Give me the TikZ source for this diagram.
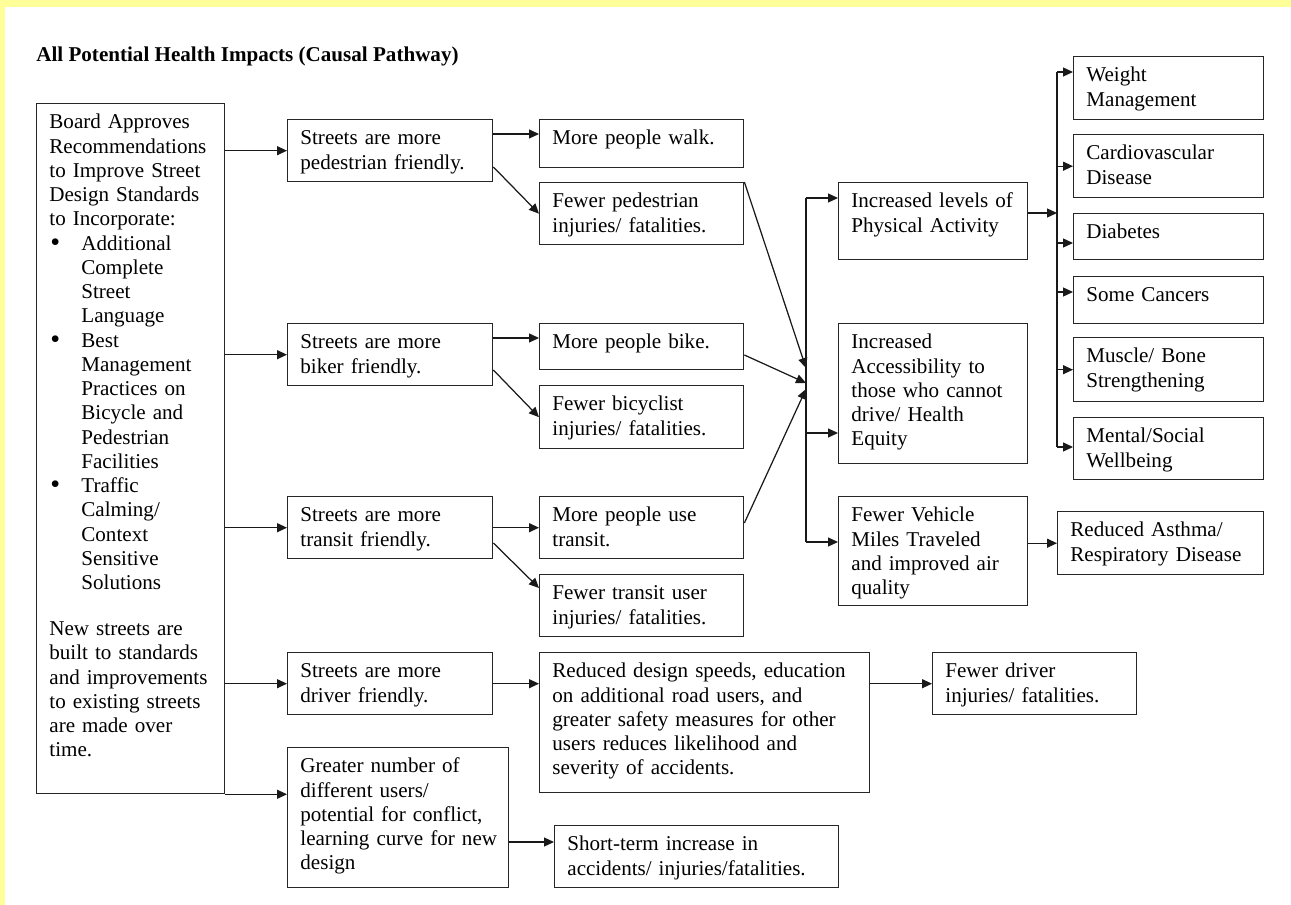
\documentclass[tikz,border=0pt]{standalone}
\usepackage{fontspec}
\setmainfont{Liberation Serif}
\usepackage{xcolor}
\usepackage{tikz}
\usetikzlibrary{arrows.meta, positioning, calc}

\definecolor{pageyellow}{HTML}{FFFF99}
\newcommand{\bul}{\makebox[0.64cm][l]{\hspace{0.02cm}\raisebox{-0.6pt}{\fontsize{16}{13.8}\selectfont\textbullet}}}
\newcommand{\ind}{\hspace*{0.64cm}}

\begin{document}
\begin{tikzpicture}[
  x=0.02cm, y=-0.02cm,
  font=\fontsize{12}{13.8}\selectfont,
  box/.style={rectangle, draw=black!85, line width=0.8pt, anchor=north west,
              align=left, inner xsep=0.254cm, inner ysep=3.6pt, text height=10.7pt},
  arrow/.style={-{Triangle[length=2mm, width=1.8mm]}, line width=0.7pt, draw=black!90},
  link/.style={line width=0.7pt, draw=black!90}
]
  \fill[white] (0,0) rectangle (1291,905);
  \fill[pageyellow] (0,0) rectangle (1291,7);
  \fill[pageyellow] (0,0) rectangle (5,905);
  \useasboundingbox (0,0) rectangle (1291,905);

  \node[anchor=base west, inner sep=0pt, font=\fontsize{12}{13.8}\selectfont\bfseries] (title) at (36,62)
    {All Potential Health Impacts (Causal Pathway)};

  % recommendation
  \node[box, text width=3.252cm, text depth=13.171cm] (board) at (36,103)
    {Board Approves\\Recommendations\\to Improve Street\\Design Standards\\to Incorporate:\\
     \bul Additional\\\ind Complete\\\ind Street\\\ind Language\\
     \bul Best\\\ind Management\\\ind Practices on\\\ind Bicycle and\\\ind Pedestrian\\\ind Facilities\\
     \bul Traffic\\\ind Calming/\\\ind Context\\\ind Sensitive\\\ind Solutions\\[12.5pt]
     New streets are\\built to standards\\and improvements\\to existing streets\\are made over\\time.};

  % street types
  \node[box, text width=3.592cm, text depth=0.611cm] (ped) at (287,119) {Streets are more\\pedestrian friendly.};
  \node[box, text width=3.592cm, text depth=0.611cm] (bike) at (287,323) {Streets are more\\biker friendly.};
  \node[box, text width=3.592cm, text depth=0.611cm] (transit) at (287,496) {Streets are more\\transit friendly.};
  \node[box, text width=3.592cm, text depth=0.611cm] (driver) at (287,652) {Streets are more\\driver friendly.};
  \node[box, inner xsep=0.2cm, text width=4.02cm, text depth=2.171cm] (greater) at (287,747)
    {\hspace*{0.054cm}Greater number of\\\hspace*{0.054cm}different users/\\\hspace*{0.054cm}potential for conflict,\\\hspace*{0.054cm}learning curve for new\\\hspace*{0.054cm}design};

  % behaviour and safety
  \node[box, text width=3.572cm, text depth=0.331cm] (walk) at (539,119) {More people walk.};
  \node[box, text width=3.572cm, text depth=0.611cm] (pedinj) at (539,182) {Fewer pedestrian\\injuries/ fatalities.};
  \node[box, text width=3.572cm, text depth=0.291cm] (bikemore) at (539,323) {More people bike.};
  \node[box, text width=3.572cm, text depth=0.631cm] (bikeinj) at (539,385) {Fewer bicyclist\\injuries/ fatalities.};
  \node[box, text width=3.572cm, text depth=0.611cm] (transitmore) at (539,496) {More people use\\transit.};
  \node[box, text width=3.572cm, text depth=0.611cm] (transitinj) at (539,574) {Fewer transit user\\injuries/ fatalities.};
  \node[box, text width=6.092cm, text depth=2.171cm] (reduced) at (539,652)
    {Reduced design speeds, education\\on additional road users, and\\greater safety measures for other\\users reduces likelihood and\\severity of accidents.};
  \node[box, text width=5.172cm, text depth=0.611cm] (shortterm) at (554,825)
    {Short-term increase in\\accidents/ injuries/fatalities.};
  \node[box, text width=3.572cm, text depth=0.611cm] (driverinj) at (932,652) {Fewer driver\\injuries/ fatalities.};

  % intermediate outcomes
  \node[box, text width=3.272cm, text depth=0.911cm] (pa) at (838,182) {Increased levels of\\Physical Activity};
  \node[box, text width=3.272cm, text depth=2.171cm] (access) at (838,323)
    {Increased\\Accessibility to\\those who cannot\\drive/ Health\\Equity};
  \node[box, text width=3.272cm, text depth=1.551cm] (vmt) at (838,496)
    {Fewer Vehicle\\Miles Traveled\\and improved air\\quality};

  % health outcomes
  \node[box, text width=3.292cm, text depth=0.631cm] (weight) at (1073,56) {Weight\\Management};
  \node[box, text width=3.292cm, text depth=0.631cm] (cardio) at (1073,134) {Cardiovascular\\Disease};
  \node[box, text width=3.292cm, text depth=0.291cm] (diabetes) at (1073,213) {Diabetes};
  \node[box, text width=3.292cm, text depth=0.311cm] (cancers) at (1073,276) {Some Cancers};
  \node[box, text width=3.292cm, text depth=0.651cm] (muscle) at (1073,337) {Muscle/ Bone\\Strengthening};
  \node[box, text width=3.292cm, text depth=0.611cm] (mental) at (1073,417) {Mental/Social\\Wellbeing};
  \node[box, text width=3.612cm, text depth=0.631cm] (asthma) at (1057,511) {Reduced Asthma/\\Respiratory Disease};

  % board to street types
  \draw[arrow] (board.east |- ped.west) -- (ped.west);
  \draw[arrow] (board.east |- bike.west) -- (bike.west);
  \draw[arrow] (board.east |- transit.west) -- (transit.west);
  \draw[arrow] (board.east |- driver.west) -- (driver.west);
  \draw[arrow] (board.south east) -- (greater.west |- board.south east);

  % street types to behaviour
  \draw[arrow] (ped.east |- 0,134) -- (walk.west |- 0,134);
  \draw[arrow] (ped.east |- 0,167) -- (pedinj.west);
  \draw[arrow] (bike.east |- 0,338) -- (bikemore.west |- 0,338);
  \draw[arrow] (bike.east |- 0,370) -- (bikeinj.west);
  \draw[arrow] (transit.east) -- (transitmore.west);
  \draw[arrow] (transit.east |- 0,543) -- (transitinj.west |- 0,588);
  \draw[arrow] (driver.east) -- (reduced.west |- driver.east);
  \draw[arrow] (reduced.east |- driverinj.west) -- (driverinj.west);
  \draw[arrow] (greater.east |- 0,842) -- (shortterm.west |- 0,842);

  % merge into the middle trunk
  \coordinate (trunkT) at (806,198);
  \coordinate (trunkB) at (806,542);
  \coordinate (inP) at (806,368);
  \coordinate (inB) at (806,383);
  \coordinate (inT) at (806,389);
  \draw[arrow] (pedinj.north east) -- (inP);
  \draw[arrow] (bikemore.east |- 0,355) -- (inB);
  \draw[arrow] (transitmore.east |- 0,523) -- (inT);
  \draw[link] (trunkT) -- (trunkB);
  \draw[arrow] (trunkT) -- (pa.west |- trunkT);
  \draw[arrow] (trunkT |- 0,433) -- (access.west |- 0,433);
  \draw[arrow] (trunkB) -- (vmt.west |- trunkB);

  % right trunk
  \coordinate (hubT) at (1057,72);
  \coordinate (hubB) at (1057,447);
  \draw[arrow] (pa.east |- 0,213) -- (hubT |- 0,213);
  \draw[link] (hubT) -- (hubB);
  \draw[arrow] (hubT) -- (weight.west |- hubT);
  \draw[arrow] (hubT |- cardio.west) -- (cardio.west);
  \draw[arrow] (hubT |- 0,243) -- (diabetes.west |- 0,243);
  \draw[arrow] (hubT |- 0,292) -- (cancers.west |- 0,292);
  \draw[arrow] (hubT |- muscle.west) -- (muscle.west);
  \draw[arrow] (hubB) -- (mental.west |- hubB);
  \draw[arrow] (vmt.east |- asthma.west) -- (asthma.west);
\end{tikzpicture}
\end{document}
